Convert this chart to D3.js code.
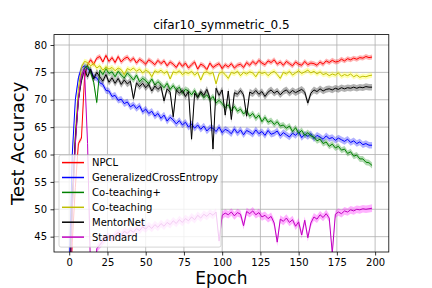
<!DOCTYPE html>
<html>
<head>
<meta charset="utf-8">
<script src="https://cdn.jsdelivr.net/npm/d3@7"></script>
<style>
  body { margin: 0; background: #fff; }
  svg text { font-family: "DejaVu Sans", sans-serif; fill: #000; }
</style>
</head>
<body>
<div id="chart"></div>
<script>
// epochs sampled every 2
var epochs = d3.range(0, 200, 2);

var npcl = [30,44,54,62,63,74,76.4,77.3,76.5,77.6,
  77.9,76.9,78.1,77.0,77.7,76.8,77.9,76.9,77.5,77.8,
  77.1,77.6,76.7,77.4,77.0,76.5,77.3,76.9,76.4,77.2,
  76.6,77.1,76.2,76.9,76.5,75.9,76.8,76.1,76.7,75.8,
  76.4,76.9,75.6,76.5,76.2,75.5,76.7,75.9,76.3,76.6,
  75.7,76.4,76.0,76.6,75.8,76.3,76.5,75.9,76.8,76.3,
  77.0,76.5,77.2,76.7,76.4,77.1,76.8,77.3,76.5,76.9,
  76.3,77.0,76.6,76.2,76.9,76.5,76.3,77.0,76.4,76.7,
  76.6,76.3,76.9,76.5,77.1,76.8,77.2,76.9,77.0,77.4,
  77.1,77.5,77.3,77.6,77.4,77.7,77.6,77.9,77.7,77.8];

var gce = [38,60,70,74,75.8,76.2,75.6,75.3,74.2,74.0,
  73.1,72.8,71.7,71.6,70.6,70.8,69.9,70.1,69.3,69.6,
  68.7,69.1,68.4,68.9,67.8,68.3,67.5,67.9,67.0,67.5,
  66.6,67.2,66.1,66.8,66.3,65.6,66.2,65.4,65.9,65.0,
  65.6,64.8,65.4,64.6,65.2,64.3,64.9,64.8,64.2,65.0,
  64.0,64.6,64.3,63.8,64.7,63.9,64.5,63.6,64.4,64.1,
  63.7,64.5,63.8,64.2,63.5,64.4,63.7,63.9,64.3,63.4,
  64.0,63.6,63.2,63.9,63.5,64.1,63.1,63.7,63.3,63.8,
  62.9,63.5,63.2,62.8,63.4,62.9,63.1,62.6,63.0,62.7,
  62.4,62.8,62.2,62.5,62.0,62.3,61.8,62.0,61.7,61.7];

var coteachPlus = [33,50,62,70,74.5,75.8,76.2,75.0,73.2,69.5,
  75.4,74.6,75.7,74.8,75.1,74.2,75.2,74.5,74.0,74.9,
  74.3,73.6,74.5,73.3,73.9,73.5,72.9,73.8,72.7,73.3,
  72.8,72.2,73.0,71.9,72.6,71.8,72.3,71.2,71.9,71.6,
  70.9,71.7,70.6,71.2,70.4,70.9,70.0,70.6,69.4,69.9,
  69.3,68.6,69.1,68.0,68.8,67.9,68.3,67.4,68.0,67.0,
  67.5,66.6,67.2,66.0,66.8,65.9,66.2,65.5,66.0,65.2,
  65.4,64.8,65.2,64.2,64.9,63.9,64.4,63.5,64.0,63.4,
  63.2,62.5,62.8,62.0,62.3,61.5,61.9,61.2,61.5,60.8,
  61.0,60.2,60.5,59.7,59.9,59.2,59.2,58.6,58.5,58.0];

var coteach = [32,50,64,72,76,77,76.8,76.2,76.6,75.8,
  76.2,75.4,76.0,75.6,75.9,75.3,75.8,75.5,74.6,75.7,
  75.4,75.8,75.2,75.6,74.9,75.4,75.1,74.2,75.3,75.0,
  75.4,74.8,75.2,73.8,75.1,74.9,75.3,74.6,75.0,74.8,
  75.2,74.5,75.0,73.6,74.9,75.1,74.7,75.0,72.9,74.8,
  75.1,74.6,73.9,75.0,74.8,75.2,74.4,75.0,74.7,75.1,
  74.9,74.2,75.1,74.8,75.0,74.4,74.9,75.2,74.6,73.9,
  75.0,74.7,75.2,74.5,74.9,75.3,74.8,75.1,75.4,74.9,
  75.2,74.7,75.1,74.6,74.8,74.4,74.7,74.5,74.9,74.3,
  74.6,74.4,74.7,74.2,74.5,74.1,74.3,74.2,74.4,74.5];

var mentorNet = [34,52,63,70,73.5,75.5,74.2,75.6,73.8,75.0,
  74.2,73.4,74.6,73.2,74.0,73.0,73.9,72.8,73.6,72.9,
  73.4,70.2,73.1,72.4,73.0,72.2,72.8,71.6,72.5,71.9,
  72.4,69.8,72.0,71.4,66.9,71.8,71.2,71.7,70.6,71.5,
  62.8,71.2,70.4,71.5,70.8,71.9,70.3,61.0,72.1,70.8,
  71.8,67.2,71.6,66.4,71.3,71.0,71.7,70.9,67.0,71.4,
  71.1,71.7,71.0,71.5,70.6,71.4,71.8,71.2,71.6,70.9,
  71.5,71.8,71.2,71.7,71.3,71.6,71.9,71.4,69.4,71.2,
  71.8,71.5,72.0,71.6,71.9,72.0,71.8,72.1,71.9,72.2,
  72.0,72.2,72.1,72.3,72.1,72.3,72.2,72.4,72.3,72.3];

var standard = [30,50,62,70,74.5,75.5,62,38,30,42.8,
  43.5,44.2,44.8,45.0,44.6,45.3,45.8,45.2,46.0,45.6,
  46.2,45.8,46.5,46.1,46.8,46.4,47.0,46.5,47.2,46.7,
  47.4,46.9,47.6,47.2,47.9,47.4,48.1,47.6,48.3,47.9,
  48.6,48.1,48.9,48.4,49.1,48.7,49.3,48.9,49.5,44.2,
  48.9,49.3,49.0,49.5,48.8,49.4,49.1,47.0,49.6,49.2,
  49.7,49.0,49.4,48.6,48.9,48.3,48.7,47.5,44.0,48.2,
  47.8,48.4,47.6,48.1,46.9,47.7,45.3,48.0,44.8,47.5,
  48.6,48.2,49.0,48.5,49.2,48.4,42.0,49.1,49.5,49.2,
  49.7,49.5,49.9,49.7,50.0,49.9,50.1,50.0,50.1,50.2];

var names = ["NPCL", "GeneralizedCrossEntropy", "Co-teaching+", "Co-teaching", "MentorNet", "Standard"];
var seriesValues = [npcl, gce, coteachPlus, coteach, mentorNet, standard];
var spread = [0.45, 0.6, 0.55, 0.5, 0.6, 0.7];   // std of runs
var lineColors = ["#ff0000", "#0000ff", "#008000", "#bfbf00", "#000000", "#bf00bf"];
var bandColors = ["#ff0000", "#0000ff", "#008000", "#ffff00", "#000000", "#ff00ff"];

var xTicks = [0, 25, 50, 75, 100, 125, 150, 175, 200];
var yTicks = [45, 50, 55, 60, 65, 70, 75, 80];

var W = 432, H = 288;
var margin = { left: 54, right: 43.2, top: 34.6, bottom: 36 };
var width = W - margin.left - margin.right;
var height = H - margin.top - margin.bottom;

var svg = d3.select("#chart").append("svg")
    .attr("width", W)
    .attr("height", H);

var g = svg.append("g")
    .attr("transform", "translate(" + margin.left + "," + margin.top + ")");

var x = d3.scaleLinear().domain([-9.95, 208.95]).range([0, width]);
var y = d3.scaleLinear().domain([42.2, 81.9]).range([height, 0]);

g.append("clipPath")
    .attr("id", "plot-clip")
  .append("rect")
    .attr("width", width)
    .attr("height", height);

// grid
g.append("g").selectAll("line").data(xTicks).enter().append("line")
    .attr("x1", function(d){ return x(d); })
    .attr("x2", function(d){ return x(d); })
    .attr("y1", 0).attr("y2", height)
    .style("stroke", "#b0b0b0").style("stroke-width", 0.8);
g.append("g").selectAll("line").data(yTicks).enter().append("line")
    .attr("y1", function(d){ return y(d); })
    .attr("y2", function(d){ return y(d); })
    .attr("x1", 0).attr("x2", width)
    .style("stroke", "#b0b0b0").style("stroke-width", 0.8);

var plot = g.append("g").attr("clip-path", "url(#plot-clip)");

var line = d3.line()
    .x(function(d, i){ return x(epochs[i]); })
    .y(function(d){ return y(d); });

seriesValues.forEach(function(vals, k){
    var area = d3.area()
        .x(function(d, i){ return x(epochs[i]); })
        .y0(function(d){ return y(d - spread[k]); })
        .y1(function(d){ return y(d + spread[k]); });
    plot.append("path")
        .datum(vals)
        .attr("d", area)
        .style("fill", bandColors[k])
        .style("fill-opacity", 0.3)
        .style("stroke", "none");
    plot.append("path")
        .datum(vals)
        .attr("d", line)
        .style("fill", "none")
        .style("stroke", lineColors[k])
        .style("stroke-width", 1);
});

// axes
var xAxis = g.append("g")
    .attr("transform", "translate(0," + height + ")")
    .call(d3.axisBottom(x).tickValues(xTicks).tickSize(3.5).tickPadding(3.5));
var yAxis = g.append("g")
    .call(d3.axisLeft(y).tickValues(yTicks).tickSize(3.5).tickPadding(3.5));
[xAxis, yAxis].forEach(function(a){
    a.select(".domain").remove();
    a.selectAll(".tick line").style("stroke", "#000").style("stroke-width", 0.8);
    a.selectAll(".tick text").style("font-size", "10px").style("font-family", "DejaVu Sans");
});

g.append("rect")
    .attr("width", width).attr("height", height)
    .style("fill", "none").style("stroke", "#000").style("stroke-width", 0.8);

// title + labels
g.append("text")
    .attr("x", width / 2).attr("y", -6)
    .attr("text-anchor", "middle")
    .style("font-size", "12px")
    .text("cifar10_symmetric_0.5");

svg.append("text")
    .attr("x", margin.left + width / 2).attr("y", 283.5)
    .attr("text-anchor", "middle")
    .style("font-size", "17px")
    .text("Epoch");

svg.append("text")
    .attr("transform", "translate(24," + (margin.top + height / 2) + ") rotate(-90)")
    .attr("text-anchor", "middle")
    .style("font-size", "18px")
    .text("Test Accuracy");

// legend
var legend = g.append("g").attr("transform", "translate(5,120.5)");
legend.append("rect")
    .attr("width", 162).attr("height", 92)
    .attr("rx", 2)
    .style("fill", "#fff").style("fill-opacity", 0.8)
    .style("stroke", "#cccccc").style("stroke-width", 0.8);
names.forEach(function(name, k){
    var ly = 7.5 + k * 14.9;
    legend.append("line")
        .attr("x1", 3).attr("x2", 25)
        .attr("y1", ly).attr("y2", ly)
        .style("stroke", lineColors[k]).style("stroke-width", 1.5);
    legend.append("text")
        .attr("x", 33).attr("y", ly + 3.6)
        .style("font-size", "10px")
        .text(name);
});
</script>
</body>
</html>
